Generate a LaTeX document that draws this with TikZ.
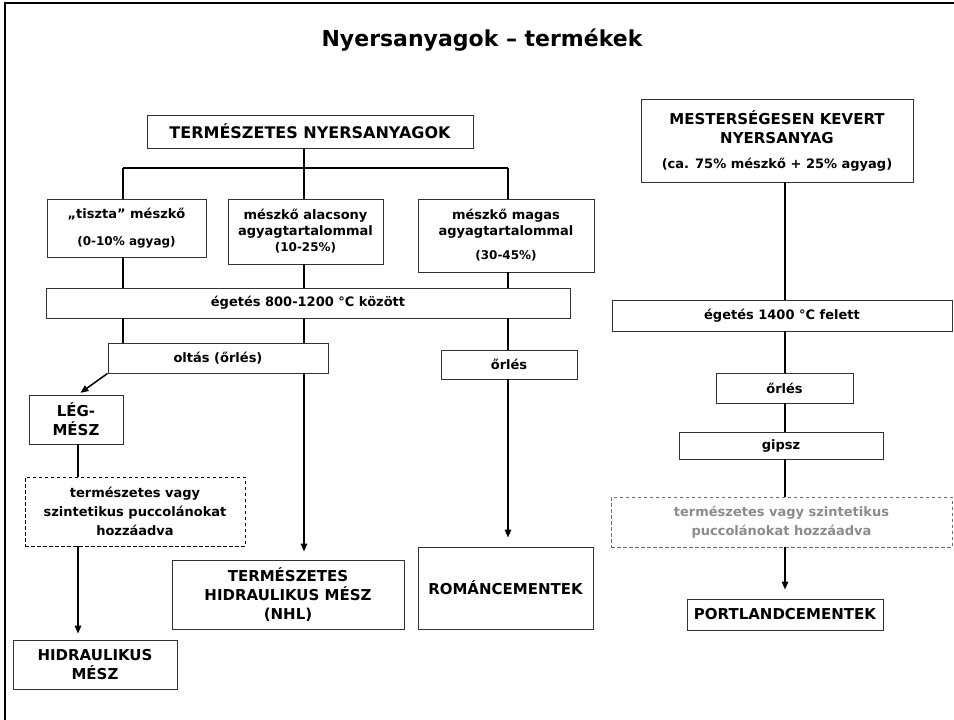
\documentclass[tikz,border=0pt]{standalone}
\usepackage{fontspec}
\setmainfont{DejaVu Sans}
\usetikzlibrary{arrows.meta}
\newcommand\capsz{\fontsize{15}{19}\selectfont}
\newcommand\lowsz{\fontsize{13}{19}\selectfont}
\newcommand\tightsz{\fontsize{13}{16}\selectfont}
\newcommand\smsz{\fontsize{12}{14}\selectfont}
\definecolor{boxline}{HTML}{333333}
\definecolor{graytext}{HTML}{8C8C8C}
\definecolor{graydash}{HTML}{6E6E6E}
\begin{document}
\begin{tikzpicture}[x=1pt,y=-1pt,
  box/.style={draw=boxline, line width=0.9pt, fill=white, align=center, inner sep=0pt, font=\bfseries\lowsz},
  capbox/.style={box, font=\bfseries\capsz},
  dbox/.style={box, dash pattern=on 3.5pt off 2.5pt, line width=0.8pt},
  conn/.style={draw=black, line width=1.5pt},
  arr/.style={conn, -{Triangle[length=8pt,width=6.5pt]}},
]
\useasboundingbox (0,0) rectangle (954,720);
% frame
\draw[line width=2.5pt] (5,720) -- (5,3) -- (954,3);

% title
\node[font=\bfseries\fontsize{22}{26}\selectfont] (title) at (482,40) {Nyersanyagok – termékek};

% left branch
\node[box, minimum width=326pt, minimum height=33pt, font=\bfseries\fontsize{16}{19}\selectfont] (tn) at (310,131.5) {TERMÉSZETES NYERSANYAGOK};
\node[box, minimum width=159pt, minimum height=58pt, font=\bfseries\tightsz] (b1) at (126.5,228) {„tiszta” mészkő\\[11pt]{\smsz(0-10\% agyag)}};
\node[box, minimum width=155pt, minimum height=65pt, font=\bfseries\tightsz] (b2) at (305.5,231.5) {mészkő alacsony\\agyagtartalommal\\{\smsz(10-25\%)}};
\node[box, minimum width=176pt, minimum height=73pt, font=\bfseries\tightsz] (b3) at (506,235.5) {mészkő magas\\agyagtartalommal\\[8pt]{\smsz(30-45\%)}};
\node[box, minimum width=524pt, minimum height=30pt] (e1) at (308,303) {égetés 800-1200 °C között};
\node[box, minimum width=220pt, minimum height=30pt] (ol) at (218,358) {oltás (őrlés)};
\node[box, minimum width=136pt, minimum height=29pt] (or1) at (509,364.5) {őrlés};
\node[capbox, minimum width=94pt, minimum height=49pt] (leg) at (76,419.5) {LÉG-\\MÉSZ};
\node[dbox, draw=black, minimum width=220pt, minimum height=69pt] (d1) at (135,511.5) {természetes vagy\\szintetikus puccolánokat\\hozzáadva};
\node[capbox, minimum width=164pt, minimum height=49pt] (hidr) at (95,664.5) {HIDRAULIKUS\\MÉSZ};
\node[capbox, minimum width=232pt, minimum height=69pt] (nhl) at (288,594.5) {TERMÉSZETES\\HIDRAULIKUS MÉSZ\\(NHL)};
\node[capbox, minimum width=175pt, minimum height=82pt] (rom) at (505.5,588) {ROMÁNCEMENTEK};

% right branch
\node[box, minimum width=272pt, minimum height=83pt, font=\bfseries\capsz] (mest) at (777,140.5) {MESTERSÉGESEN KEVERT\\NYERSANYAG\\[6pt]{\lowsz(ca. 75\% mészkő + 25\% agyag)}};
\node[box, minimum width=340pt, minimum height=31pt] (e2) at (782,315.5) {égetés 1400 °C felett};
\node[box, minimum width=137pt, minimum height=30pt] (or2) at (784.5,388) {őrlés};
\node[box, minimum width=204pt, minimum height=27pt] (gip) at (781,445.5) {gipsz};
\node[dbox, draw=graydash, text=graytext, minimum width=341pt, minimum height=50pt] (d2) at (781.5,522) {természetes vagy szintetikus\\puccolánokat hozzáadva};
\node[capbox, minimum width=196pt, minimum height=31pt] (port) at (785,614.5) {PORTLANDCEMENTEK};

% columns
\coordinate (cL) at (123,168);
\coordinate (cM) at (304,168);
\coordinate (cR) at (508,168);
\coordinate (cLL) at (78,0);
\coordinate (cP) at (785,0);

% connectors left
\draw[conn] (tn.south -| cM) -- (cM);
\draw[conn] (cL) -- (cR);
\draw[conn] (cL) -- (b1.north -| cL);
\draw[conn] (cM) -- (b2.north -| cM);
\draw[conn] (cR) -- (b3.north -| cR);
\draw[conn] (b1.south -| cL) -- (e1.north -| cL);
\draw[conn] (b2.south -| cM) -- (e1.north -| cM);
\draw[conn] (b3.south -| cR) -- (e1.north -| cR);
\draw[conn] (e1.south -| cL) -- (ol.north -| cL);
\draw[conn] (e1.south -| cM) -- (ol.north -| cM);
\draw[arr, shorten >=8pt] (ol.south -| cM) -- (nhl.north -| cM);
\draw[conn] (e1.south -| cR) -- (or1.north -| cR);
\draw[arr, shorten >=9pt] (or1.south -| cR) -- (rom.north -| cR);
\draw[arr, shorten >=3pt] (ol.south west) -- (leg.north -| cLL);
\draw[conn] (leg.south -| cLL) -- (d1.north -| cLL);
\draw[arr, shorten >=6pt] (d1.south -| cLL) -- (hidr.north -| cLL);

% connectors right
\draw[conn] (mest.south -| cP) -- (e2.north -| cP);
\draw[conn] (e2.south -| cP) -- (or2.north -| cP);
\draw[conn] (or2.south -| cP) -- (gip.north -| cP);
\draw[conn] (gip.south -| cP) -- (d2.north -| cP);
\draw[arr, shorten >=9pt] (d2.south -| cP) -- (port.north -| cP);
\end{tikzpicture}
\end{document}
